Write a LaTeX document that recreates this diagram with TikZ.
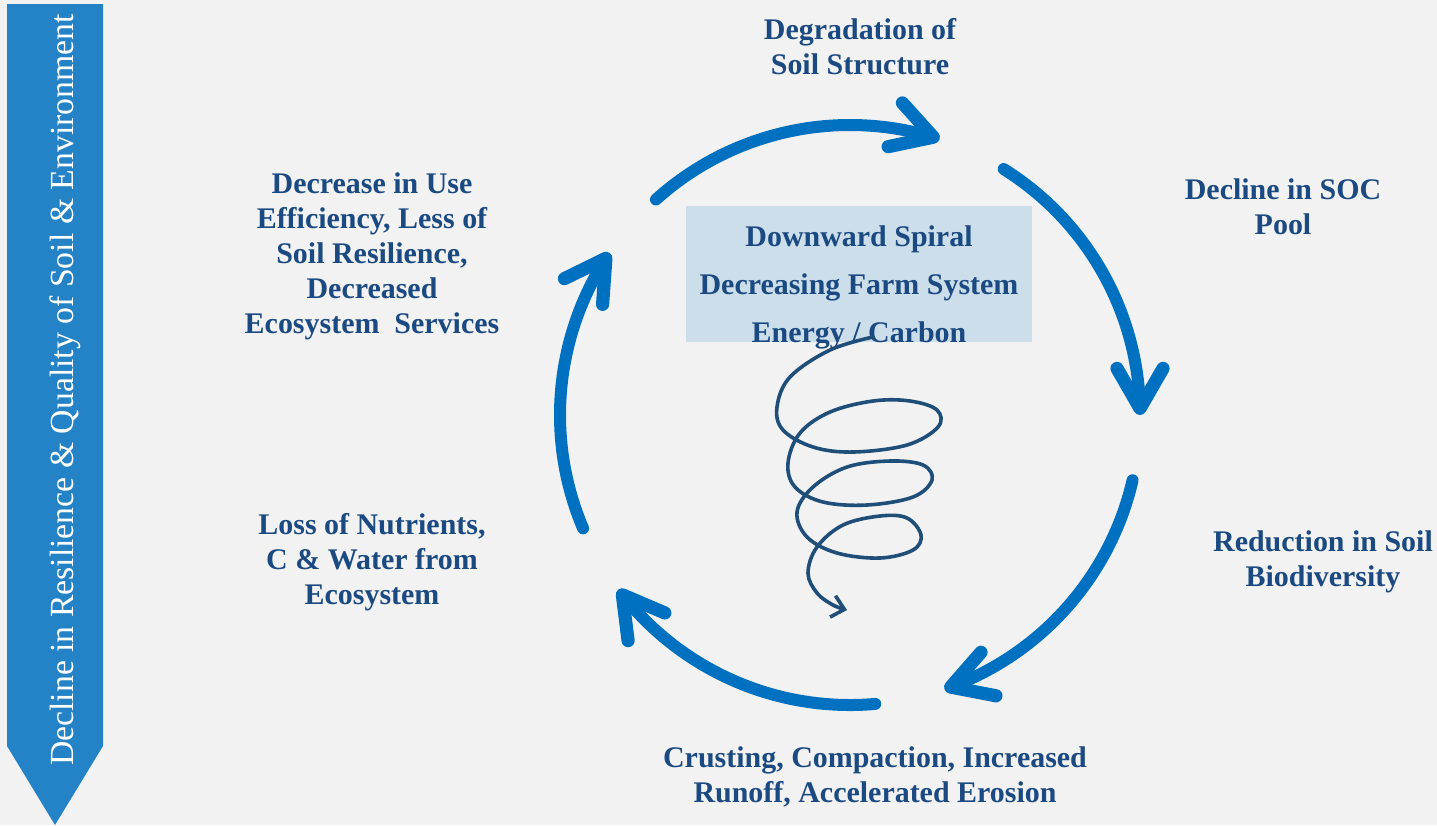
\documentclass[tikz,border=0pt]{standalone}
\usepackage{fontspec}
\setmainfont{Liberation Serif}
\usetikzlibrary{arrows.meta,bending}
\definecolor{bggray}{HTML}{F2F2F2}
\definecolor{bannerblue}{HTML}{2383C6}
\definecolor{arcblue}{HTML}{0070C0}
\definecolor{textblue}{HTML}{1B4A82}
\definecolor{boxblue}{HTML}{CCDEEA}
\definecolor{spiralblue}{HTML}{1F4E79}
\tikzset{
  lbl/.style = {text=textblue, align=center, font=\fontsize{21.3}{24.9}\selectfont\bfseries},
  cyclearrow/.style = {arcblue, line width=0.3cm, line cap=round,
    -{Straight Barb[length=1cm, width=1.15cm, line width=0.33cm, round]}},
}
\begin{document}
\begin{tikzpicture}[x=0.025cm, y=-0.025cm]
\fill [bggray] (0,0) rectangle (1437,825);
\useasboundingbox (0,0) rectangle (1437,825);
% side banner
\fill [bannerblue] (7,4) -- (103,4) -- (103,746) -- (55,825) -- (7,746) -- cycle;
\node [rotate=90, text=white, font=\fontsize{24}{28}\selectfont] (side) at (65,390)
  {Decline in Resilience \& Quality of Soil \& Environment};
% centre box
\fill [boxblue] (686,206) rectangle (1032,342);
\node [lbl, font=\fontsize{21.3}{34.1}\selectfont\bfseries] (spiral) at (859,287)
  {Downward Spiral\\Decreasing Farm System\\Energy / Carbon};
% the cycle
\coordinate (hub) at (850,415);
\draw [cyclearrow] (hub) ++(228:290) arc [start angle=228, end angle=288, radius=290];
\draw [cyclearrow] (hub) ++(302:290) arc [start angle=302, end angle=360, radius=290];
\draw [cyclearrow] (hub) ++(13:290) arc [start angle=13, end angle=71, radius=290];
\draw [cyclearrow] (hub) ++(85:290) arc [start angle=85, end angle=143, radius=290];
\draw [cyclearrow] (hub) ++(157:290) arc [start angle=157, end angle=214, radius=290];
% labels
\node [lbl] (degr) at (860,47) {Degradation of\\Soil Structure};
\node [lbl] (soc) at (1283,207) {Decline in SOC\\Pool};
\node [lbl] (biod) at (1323,562) {Reduction in Soil\\Biodiversity};
\node [lbl] (crust) at (875,777) {Crusting, Compaction, Increased\\Runoff, Accelerated Erosion};
\node [lbl] (loss) at (372,562) {Loss of Nutrients,\\C \& Water from\\Ecosystem};
\node [lbl] (decr) at (372,256) {Decrease in Use\\Efficiency, Less of\\Soil Resilience,\\Decreased\\Ecosystem\ \ Services};
% spiral
\draw [spiralblue, line width=0.09cm, -{Straight Barb[length=0.3cm, width=0.55cm]}]
  plot [smooth, tension=0.6] coordinates {(873,337) (830,350) (790,377) (777,407) (783,430)
  (813,447) (853,452) (907,445) (938,427) (937,410) (910,401) (873,401) (830,412) (800,433)
  (788,463) (795,487) (823,502) (867,505) (913,497) (932,480) (923,465) (890,461) (847,467)
  (813,487) (797,512) (807,537) (837,553) (880,558) (913,550) (921,535) (907,518) (880,516)
  (843,525) (817,547) (808,573) (817,593) (833,605) (847,610)};
\end{tikzpicture}
\end{document}
